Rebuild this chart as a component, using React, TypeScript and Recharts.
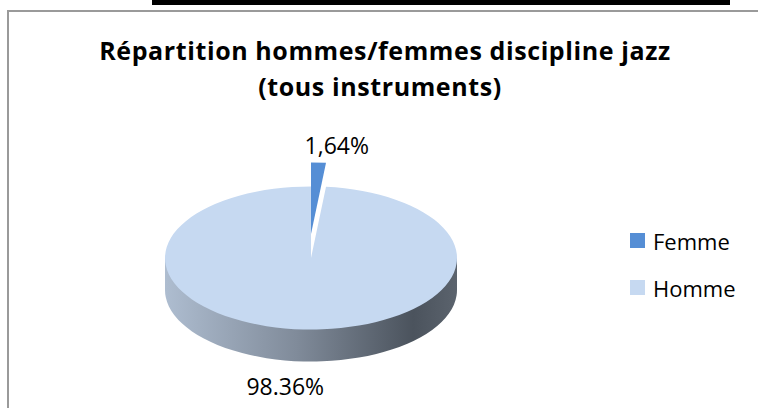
import React from "react";
import { PieChart, Pie, Cell, Legend } from "recharts";

const categories = ["Femme", "Homme"];
const values = [1.64, 98.36];
const valueLabels = ["1,64%", "98.36%"];
const colors = ["#558ed5", "#c6d9f1"];
const titleLines = ["Répartition hommes/femmes discipline jazz", "(tous instruments)"];

const data = categories.map((name, i) => ({ name, value: values[i], label: valueLabels[i] }));

const W = 758;
const H = 408;
const CX = 311;
const CY = 258;
const R = 146;
const K = 0.49;
const DEPTH = 32;
const EXPLODE = 24;
const FONT = "'Open Sans', 'Noto Sans', sans-serif";

const renderLabel = (p: any) => {
  const rad = (p.midAngle * Math.PI) / 180;
  const cos = Math.cos(rad);
  const sin = Math.sin(rad);
  const x = CX + 500 * cos;
  const y = CY - 113 * sin + (sin < 0 ? 15 : 0);
  return (
    <text
      key={`lab-${p.index}`}
      x={x}
      y={y}
      textAnchor="middle"
      dominantBaseline="central"
      fill="#000"
      fontSize={23}
      fontFamily={FONT}
    >
      {data[p.index].label}
    </text>
  );
};

const renderLegend = () => (
  <div style={{ fontFamily: FONT, fontSize: 22, color: "#000" }}>
    {categories.map((c, i) => (
      <div key={c} style={{ display: "flex", alignItems: "center", height: 47 }}>
        <div style={{ width: 15, height: 15, background: colors[i], marginRight: 8 }} />
        <span>{c}</span>
      </div>
    ))}
  </div>
);

export default function App() {
  return (
    <div style={{ position: "absolute", left: 0, top: 0, width: W, height: H, background: "#fff", overflow: "hidden" }}>
      <style>{`path.recharts-sector { transform-origin: ${CX}px ${CY}px; transform: scaleY(${K}); }`}</style>
      <div style={{ position: "absolute", left: 152, top: 0, width: 578, height: 5, background: "#000" }} />
      <div
        style={{
          position: "absolute",
          left: 7,
          top: 10,
          width: W,
          height: H,
          borderTop: "2px solid #9a9a9a",
          borderLeft: "2px solid #9a9a9a",
        }}
      />
      <svg width={W} height={H} style={{ position: "absolute", left: 0, top: 0 }}>
        <defs>
          <linearGradient id="sideGrad" gradientUnits="userSpaceOnUse" x1={CX - R} y1={0} x2={CX + R} y2={0}>
            <stop offset="0%" stopColor="#aebdd0" />
            <stop offset="45%" stopColor="#808b9a" />
            <stop offset="85%" stopColor="#4b535d" />
            <stop offset="100%" stopColor="#5b636d" />
          </linearGradient>
        </defs>
        <rect x={CX - R} y={CY} width={2 * R} height={DEPTH} fill="url(#sideGrad)" />
        <text x={385} y={60} textAnchor="middle" fontFamily={FONT} fontWeight={700} fontSize={25} letterSpacing={0.6} fill="#000">
          {titleLines[0]}
        </text>
        <text x={380} y={96} textAnchor="middle" fontFamily={FONT} fontWeight={700} fontSize={25} letterSpacing={0.6} fill="#000">
          {titleLines[1]}
        </text>
      </svg>
      <div style={{ position: "absolute", left: 0, top: 0 }}>
        <PieChart width={W} height={H} margin={{ top: 0, right: 0, bottom: 0, left: 0 }}>
          <Pie
            data={data}
            dataKey="value"
            nameKey="name"
            cx={CX}
            cy={CY + DEPTH / K}
            outerRadius={R}
            startAngle={90}
            endAngle={-270}
            stroke="none"
            legendType="none"
            isAnimationActive={false}
          >
            {data.map((d, i) => (
              <Cell key={d.name} fill={i === 1 ? "url(#sideGrad)" : "transparent"} />
            ))}
          </Pie>
          <Pie
            data={data}
            dataKey="value"
            nameKey="name"
            cx={CX}
            cy={CY}
            outerRadius={R}
            startAngle={90}
            endAngle={-270}
            stroke="none"
            label={renderLabel}
            labelLine={false}
            isAnimationActive={false}
          >
            {data.map((d, i) => (
              <Cell key={d.name} fill={i === 1 ? colors[1] : "transparent"} />
            ))}
          </Pie>
          <Pie
            data={data}
            dataKey="value"
            nameKey="name"
            cx={CX}
            cy={CY - EXPLODE / K}
            outerRadius={R}
            startAngle={90}
            endAngle={-270}
            stroke="none"
            legendType="none"
            isAnimationActive={false}
          >
            {data.map((d, i) => (
              <Cell key={d.name} fill={i === 0 ? colors[0] : "transparent"} />
            ))}
          </Pie>
          <Legend
            layout="vertical"
            align="right"
            verticalAlign="top"
            content={renderLegend}
            wrapperStyle={{ left: 630, top: 217, width: 128 }}
          />
        </PieChart>
      </div>
    </div>
  );
}
